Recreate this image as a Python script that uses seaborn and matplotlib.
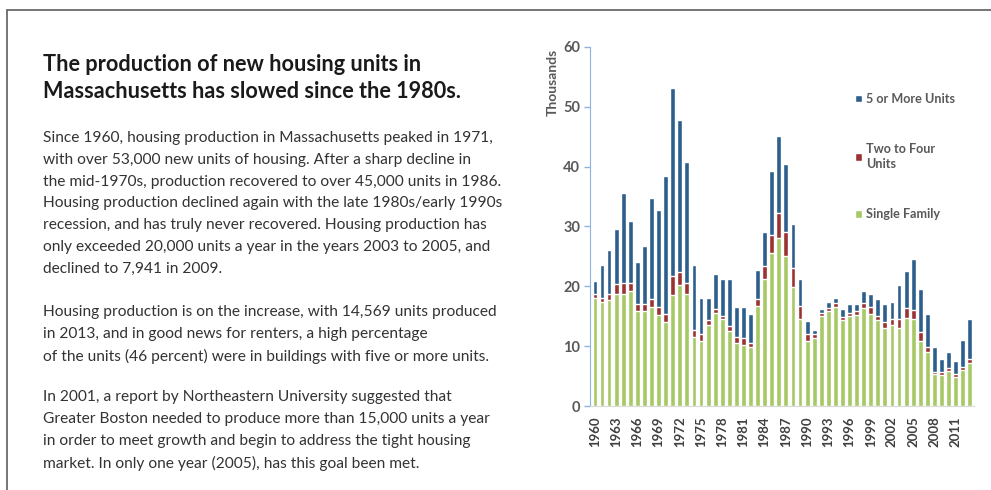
import numpy as np
import pandas as pd
import matplotlib
matplotlib.use("Agg")
import matplotlib.pyplot as plt
import seaborn as sns
from matplotlib.lines import Line2D

# housing units produced in Massachusetts, thousands
years = [str(y) for y in range(1960, 2014)]
single_family = [18.0, 17.4, 17.7, 18.8, 18.8, 19.2, 15.9, 15.9, 16.6, 15.2,
                 14.0, 18.6, 20.2, 18.8, 11.5, 10.8, 13.5, 15.6, 14.6, 12.6,
                 10.6, 10.2, 9.9, 16.7, 21.2, 25.5, 28.0, 25.1, 19.9, 14.5,
                 10.8, 11.3, 15.1, 15.9, 16.5, 14.4, 15.0, 15.2, 16.3, 15.4,
                 14.3, 13.1, 13.5, 13.1, 14.7, 14.5, 10.8, 9.0, 5.3, 5.1,
                 5.8, 4.9, 6.0, 7.2]
two_to_four = [0.8, 0.7, 1.1, 1.6, 1.8, 1.4, 1.1, 1.1, 1.2, 1.3,
               1.4, 3.1, 2.2, 1.8, 1.2, 1.2, 0.8, 0.6, 0.5, 0.8,
               0.9, 1.1, 0.7, 1.1, 2.2, 3.0, 4.2, 3.9, 3.2, 2.2,
               1.2, 0.7, 0.4, 0.5, 0.7, 0.5, 0.6, 0.6, 0.9, 1.1,
               0.8, 0.9, 1.1, 1.4, 1.6, 1.6, 1.6, 0.9, 0.4, 0.5,
               0.6, 0.4, 0.5, 0.6]
five_plus = [2.1, 5.5, 7.3, 9.2, 15.0, 10.4, 7.1, 9.8, 16.9, 16.3,
             23.0, 31.5, 25.4, 20.2, 10.9, 6.0, 3.8, 5.8, 6.2, 7.9,
             5.1, 5.3, 4.8, 4.9, 5.7, 10.8, 13.0, 11.4, 7.4, 4.6,
             2.2, 0.7, 0.7, 1.0, 0.9, 1.3, 1.5, 1.3, 2.0, 2.3,
             2.8, 3.0, 2.8, 5.7, 6.2, 8.4, 7.1, 5.5, 4.2, 2.3,
             2.6, 2.3, 4.6, 6.8]

df = pd.DataFrame({"year": years, "sf": single_family,
                   "tf": two_to_four, "fp": five_plus})
df["low"] = df["sf"] + df["tf"]
df["total"] = df["low"] + df["fp"]

blue = "#2d5f8c"
red = "#9b3232"
green = "#a6c865"
grey = "#595959"

sns.set_style("white")
plt.rcParams["font.family"] = ["Lato", "DejaVu Sans"]

fig = plt.figure(figsize=(9.91, 4.9), dpi=100)

# outer frame (top and left edges)
fig.add_artist(Line2D([7 / 991, 1], [1 - 10 / 490, 1 - 10 / 490], color="#6b6b6b", lw=1.3))
fig.add_artist(Line2D([7 / 991, 7 / 991], [0, 1 - 10 / 490], color="#6b6b6b", lw=1.3))

# left text block
fig.text(43 / 991, 1 - 78 / 490,
         "The production of new housing units in\nMassachusetts has slowed since the 1980s.",
         fontsize=15.6, fontweight="bold", color="#1a1a1a", va="center", ha="left",
         linespacing=1.4)

paras = [
    ("Since 1960, housing production in Massachusetts peaked in 1971,\n"
     "with over 53,000 new units of housing. After a sharp decline in\n"
     "the mid-1970s, production recovered to over 45,000 units in 1986.\n"
     "Housing production declined again with the late 1980s/early 1990s\n"
     "recession, and has truly never recovered. Housing production has\n"
     "only exceeded 20,000 units a year in the years 2003 to 2005, and\n"
     "declined to 7,941 in 2009.", 137),
    ("Housing production is on the increase, with 14,569 units produced\n"
     "in 2013, and in good news for renters, a high percentage\n"
     "of the units (46 percent) were in buildings with five or more units.", 311),
    ("In 2001, a report by Northeastern University suggested that\n"
     "Greater Boston needed to produce more than 15,000 units a year\n"
     "in order to meet growth and begin to address the tight housing\n"
     "market. In only one year (2005), has this goal been met.", 396),
]
for txt, yline in paras:
    fig.text(43 / 991, 1 - (yline - 6) / 490, txt, fontsize=11.15, color="#333333",
             va="top", ha="left", linespacing=1.71)

# chart
ax = fig.add_axes([590 / 991, 84 / 490, 384 / 991, 359 / 490])
w = 0.68
sns.barplot(data=df, x="year", y="total", color=blue, width=w, saturation=1,
            ax=ax, label="5 or More Units")
sns.barplot(data=df, x="year", y="low", color=red, width=w, saturation=1,
            ax=ax, label="Two to Four\nUnits")
sns.barplot(data=df, x="year", y="sf", color=green, width=w, saturation=1,
            ax=ax, label="Single Family")

ax.set_xlim(-0.7, 53.6)
ax.set_ylim(0, 60)
ax.set_yticks(range(0, 61, 10))
ax.set_xticks(range(0, len(years), 3))
ax.set_xticklabels(years[::3], rotation=90, fontsize=9.5, fontweight="bold", color="#404040")
for t in ax.get_yticklabels():
    t.set_fontsize(10.5)
    t.set_fontweight("bold")
    t.set_color(grey)
ax.tick_params(axis="y", left=True, length=4, width=1, color="#8db3e2", pad=3)
ax.tick_params(axis="x", bottom=False, pad=4)
ax.set_xlabel("")
ax.set_ylabel("")
sns.despine(ax=ax)
ax.spines["left"].set_color("#8db3e2")
ax.spines["bottom"].set_color("#d9d9d9")

fig.text(553 / 991, 1 - 82 / 490, "Thousands", rotation=90, fontsize=10,
         fontweight="bold", color=grey, ha="center", va="center")

leg = ax.legend(loc="upper left", bbox_to_anchor=(855 / 991, 1 - 93 / 490),
                bbox_transform=fig.transFigure, frameon=False, fontsize=9.1,
                handlelength=0.55, handleheight=0.55, handletextpad=0.35,
                labelspacing=3.0, borderpad=0, borderaxespad=0)
for t in leg.get_texts():
    t.set_fontweight("bold")
    t.set_color(grey)
    t.set_linespacing(1.35)

fig.savefig("out.png", dpi=100)
